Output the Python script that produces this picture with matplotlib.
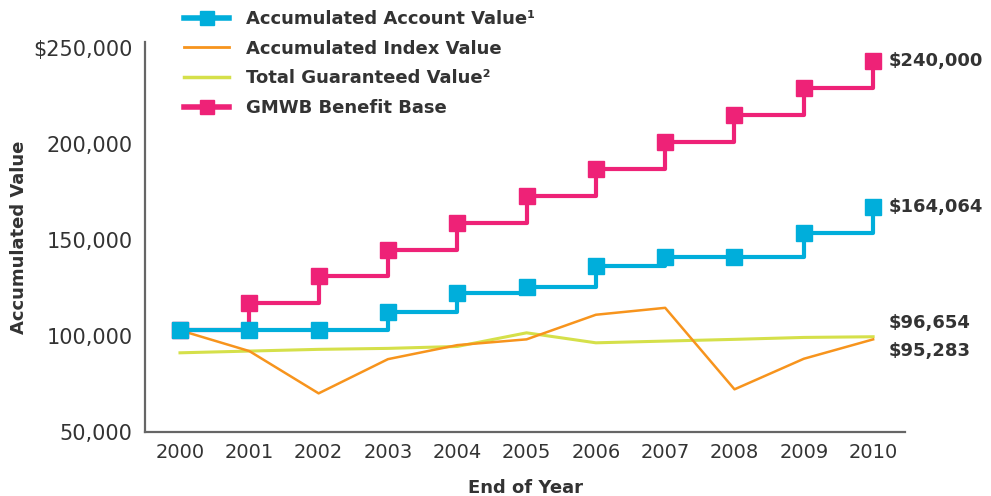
import matplotlib.pyplot as plt
from matplotlib.transforms import ScaledTranslation
from matplotlib.ticker import FixedLocator
from matplotlib.lines import Line2D

plt.rcParams.update({
    "font.family": "DejaVu Sans",
    "font.size": 14,
})

# --- data ---
years = [2000, 2001, 2002, 2003, 2004, 2005, 2006, 2007, 2008, 2009, 2010]
account_value = [100000, 100000, 100000, 109500, 119400, 122500, 133400, 138100, 138100, 150600, 164064]
index_value = [100000, 89200, 67200, 85000, 92300, 95300, 108100, 111700, 69300, 85200, 95283]
guaranteed_value = [88300, 89200, 90100, 90600, 91600, 98700, 93500, 94400, 95300, 96300, 96654]
gmwb_base = [100000, 114000, 128000, 142000, 156000, 170000, 184000, 198000, 212000, 226000, 240000]

y_ticks = [50000, 100000, 150000, 200000, 250000]
y_tick_labels = ['50,000', '100,000', '150,000', '200,000', '$250,000']

legend_labels = ['Accumulated Account Value\u00b9', 'Accumulated Index Value',
                 'Total Guaranteed Value\u00b2', 'GMWB Benefit Base']

c_blue = '#00AEDB'
c_pink = '#EE2277'
c_orange = '#F7941D'
c_green = '#D5E04A'
c_text = '#333333'

fig = plt.figure(figsize=(9.91, 4.96), dpi=100)
ax = fig.add_axes([145 / 991, 1 - 432 / 496, (905 - 145) / 991, (432 - 42) / 496])

ax.plot(years, guaranteed_value, color=c_green, linewidth=2.2, zorder=2)
ax.plot(years, index_value, color=c_orange, linewidth=1.8, zorder=3)
ax.plot(years, gmwb_base, color=c_pink, linewidth=3, drawstyle='steps-post', zorder=4)
ax.plot(years, gmwb_base, color=c_pink, linestyle='none', marker='s',
        markersize=11, zorder=4)
ax.plot(years, account_value, color=c_blue, linewidth=3, drawstyle='steps-post', zorder=5)
ax.plot(years, account_value, color=c_blue, linestyle='none', marker='s',
        markersize=11, zorder=5)

ax.set_xlim(1999.495, 2010.46)
ax.set_ylim(47100, 250000)

ax.set_xticks(years)
ax.set_xticklabels([str(y) for y in years])
ax.yaxis.set_major_locator(FixedLocator(y_ticks))
ax.set_yticklabels(y_tick_labels)
ax.tick_params(axis='x', length=0, pad=8, labelsize=14, labelcolor=c_text)
ax.tick_params(axis='y', length=0, pad=9, labelsize=15, labelcolor=c_text)

# labels sit a bit below their value in the original
shift = ScaledTranslation(0, -6 / 100, fig.dpi_scale_trans)
for lab in ax.get_yticklabels():
    lab.set_transform(lab.get_transform() + shift)

for side in ['top', 'right']:
    ax.spines[side].set_visible(False)
for side in ['left', 'bottom']:
    ax.spines[side].set_color('#666666')
    ax.spines[side].set_linewidth(1.6)

ax.set_xlabel('End of Year', fontweight='bold', fontsize=13, color=c_text, labelpad=12)
ax.set_ylabel('Accumulated Value', fontweight='bold', fontsize=13, color=c_text, labelpad=4)

# end-of-line value labels
end_labels = [
    (gmwb_base[-1], '$240,000', 0),
    (account_value[-1], '$164,064', 0),
    (guaranteed_value[-1], '$96,654', 14),
    (index_value[-1], '$95,283', -12),
]
for val, txt, dy in end_labels:
    ax.annotate(txt, xy=(years[-1], val), xytext=(16, dy), textcoords='offset pixels',
                ha='left', va='center', fontweight='bold', fontsize=13, color=c_text,
                annotation_clip=False)

leg_handles = [
    Line2D([], [], color=c_blue, linewidth=4, marker='s', markersize=10),
    Line2D([], [], color=c_orange, linewidth=2),
    Line2D([], [], color=c_green, linewidth=2.5),
    Line2D([], [], color=c_pink, linewidth=4, marker='s', markersize=10),
]
leg = fig.legend(leg_handles, legend_labels, loc='upper left',
                 bbox_to_anchor=(168 / 991, 1.0 + 6 / 496),
                 frameon=False, handlelength=2.5, handletextpad=0.9, labelspacing=0.64,
                 numpoints=1, prop={'weight': 'bold', 'size': 13})
for t in leg.get_texts():
    t.set_color(c_text)

fig.savefig('out.png', dpi=100)
